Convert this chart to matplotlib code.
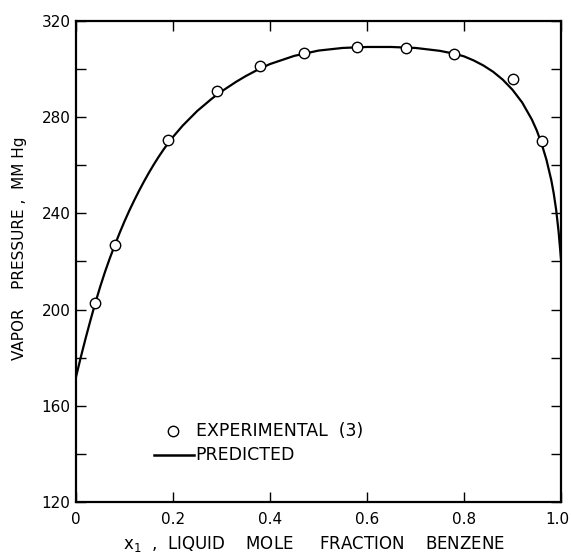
import matplotlib
matplotlib.use("Agg")
import matplotlib.pyplot as plt
import matplotlib.transforms as mtransforms
from matplotlib.ticker import MultipleLocator, FixedLocator

# Experimental data (points)
exp_x = [0.04, 0.08, 0.19, 0.29, 0.38, 0.47, 0.58, 0.68, 0.78, 0.90, 0.96]
exp_p = [202.7, 226.8, 270.7, 290.7, 301.1, 306.9, 309.0, 308.8, 306.3, 296.0, 270.3]

# Predicted curve
pred_x = [0.0, 0.01, 0.02, 0.03, 0.04, 0.05, 0.06, 0.07, 0.08, 0.09, 0.10, 0.11,
          0.12, 0.13, 0.14, 0.15, 0.16, 0.17, 0.18, 0.19, 0.20, 0.22, 0.25,
          0.28, 0.30, 0.33, 0.35, 0.38, 0.40, 0.45, 0.50, 0.55, 0.60, 0.65,
          0.70, 0.75, 0.78, 0.80, 0.82, 0.84, 0.86, 0.88, 0.90, 0.92, 0.94,
          0.95, 0.96, 0.97, 0.98, 0.985, 0.99, 0.995, 1.0]
pred_p = [172.0, 180.3, 188.2, 195.7, 202.9, 209.6, 215.8, 221.5, 226.8, 231.9,
          236.7, 241.2, 245.4, 249.4, 253.2, 256.8, 260.2, 263.4, 266.4, 269.2,
          271.8, 276.5, 282.6, 287.7, 290.7, 294.7, 297.1, 300.3, 302.1, 305.5,
          307.7, 308.8, 309.2, 309.2, 308.8, 307.6, 306.4, 305.3, 303.6, 301.5,
          298.9, 295.6, 291.4, 286.1, 279.0, 274.5, 269.0, 262.3, 253.8, 248.3,
          241.5, 232.5, 221.0]

x_ticks = [0, 0.2, 0.4, 0.6, 0.8, 1.0]
x_ticklabels = ["0", "0.2", "0.4", "0.6", "0.8", "1.0"]
y_ticks = [120, 160, 200, 240, 280, 320]

plt.rcParams['font.family'] = ['DejaVu Sans']

fig = plt.figure(figsize=(5.71, 5.55), dpi=100)
L, R, T, B = 76, 561, 21, 502
ax = fig.add_axes([L/571, 1 - B/555, (R-L)/571, (B-T)/555])

ax.plot(pred_x, pred_p, color='black', lw=1.6, solid_capstyle='round',
        solid_joinstyle='round')
ax.plot(exp_x, exp_p, linestyle='none', marker='o', markersize=7.5,
        markerfacecolor='white', markeredgecolor='black', markeredgewidth=1.0)

ax.set_xlim(0, 1.0)
ax.set_ylim(120, 320)
ax.xaxis.set_major_locator(FixedLocator(x_ticks))
ax.set_xticklabels(x_ticklabels)
ax.yaxis.set_major_locator(FixedLocator(y_ticks))
ax.yaxis.set_minor_locator(MultipleLocator(20))

for s in ax.spines.values():
    s.set_linewidth(1.6)

ax.tick_params(axis='both', which='both', direction='in', top=True, right=True,
               width=1.0, colors='black')
ax.tick_params(axis='both', which='major', length=7, labelsize=11)
ax.tick_params(axis='x', which='major', pad=7)
ax.tick_params(axis='y', which='major', pad=4)
ax.tick_params(axis='y', which='minor', length=7)

# nudge the last x tick label so it stays inside the figure
lbl = ax.get_xticklabels()[-1]
lbl.set_transform(lbl.get_transform() +
                  mtransforms.ScaledTranslation(-4/100, 0, fig.dpi_scale_trans))

fig.text(314/571, 1 - 544/555, r"x$_1$  ,  LIQUID    MOLE     FRACTION    BENZENE",
         ha='center', va='center', fontsize=12)
fig.text(20/571, 1 - 248/555, "VAPOR    PRESSURE ,  MM Hg",
         ha='center', va='center', rotation=90, fontsize=11)

# legend drawn manually in axes fraction
W, H = R - L, B - T
ax.plot([(173-L)/W], [(B-431)/H], transform=ax.transAxes, marker='o',
        markersize=7.5, markerfacecolor='white', markeredgecolor='black',
        markeredgewidth=1.0, linestyle='none')
ax.text((196-L)/W, (B-431)/H, "EXPERIMENTAL  (3)", transform=ax.transAxes,
        va='center', ha='left', fontsize=12.5)
ax.plot([(154-L)/W, (194-L)/W], [(B-455)/H]*2, transform=ax.transAxes,
        color='black', lw=1.8)
ax.text((195-L)/W, (B-455)/H, "PREDICTED", transform=ax.transAxes,
        va='center', ha='left', fontsize=12.5)

fig.savefig("out.png", dpi=100)
